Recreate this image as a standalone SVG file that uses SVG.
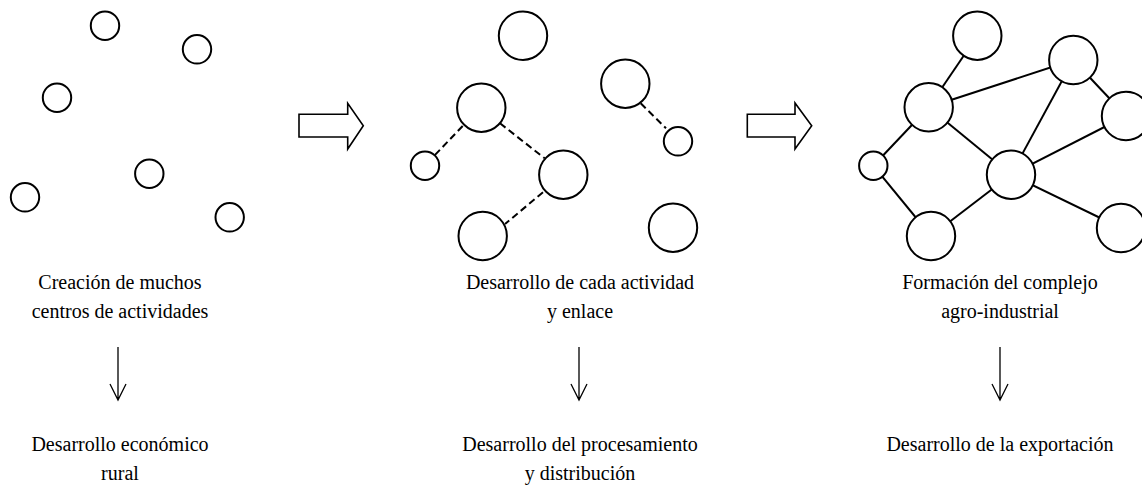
<svg xmlns="http://www.w3.org/2000/svg" width="1142" height="489" viewBox="0 0 1142 489">
<style>
.n{fill:#fff;stroke:#000;stroke-width:2}
.l{stroke:#000;stroke-width:2;fill:none}
.d{stroke:#000;stroke-width:2;fill:none;stroke-dasharray:7 4}
.b{fill:#fff;stroke:#000;stroke-width:1.6;stroke-linejoin:miter}
.a{stroke:#000;stroke-width:1.3;fill:none}
.t{font-size:20px;fill:#000;text-anchor:middle}
</style>
<rect width="1142" height="489" fill="#fff"/>
<g id="connectors">
<line class="d" x1="462.7" y1="126" x2="433.3" y2="156.7"/>
<line class="d" x1="500" y1="123.3" x2="544.7" y2="158.3"/>
<line class="d" x1="543" y1="192.3" x2="505" y2="224"/>
<line class="d" x1="640.7" y1="103.3" x2="666" y2="128.3"/>
<line class="l" x1="977.3" y1="35.7" x2="928.7" y2="107.3"/>
<line class="l" x1="928.7" y1="107.3" x2="1073.3" y2="60"/>
<line class="l" x1="1073.3" y1="60" x2="1126" y2="116"/>
<line class="l" x1="1073.3" y1="60" x2="1011" y2="174.7"/>
<line class="l" x1="1126" y1="116" x2="1011" y2="174.7"/>
<line class="l" x1="928.7" y1="107.3" x2="1011" y2="174.7"/>
<line class="l" x1="928.7" y1="107.3" x2="873.3" y2="165.7"/>
<line class="l" x1="873.3" y1="165.7" x2="931" y2="236"/>
<line class="l" x1="931" y1="236" x2="1011" y2="174.7"/>
<line class="l" x1="1011" y1="174.7" x2="1121" y2="228"/>
<polygon id="arrow1" class="b" points="299,114.3 347.7,114.3 347.7,103.3 363.3,125.7 347.7,149 347.7,137 299,137"/>
<polygon id="arrow2" class="b" points="747.3,114.3 795,114.3 795,103 811.7,125.7 795,149 795,137 747.3,137"/>
<path id="down1" class="a" d="M118,347 V400 M110,384 L118,400 L126,384"/>
<path id="down2" class="a" d="M579,347 V400 M571,384 L579,400 L587,384"/>
<path id="down3" class="a" d="M1000,347 V400 M992,384 L1000,400 L1008,384"/>
</g>
<g id="panel1">
<circle id="p1a" class="n" cx="105" cy="25.7" r="14.2"/>
<circle id="p1b" class="n" cx="197" cy="49.3" r="14.2"/>
<circle id="p1c" class="n" cx="57" cy="97.7" r="14.2"/>
<circle id="p1d" class="n" cx="149.3" cy="173.7" r="14.2"/>
<circle id="p1e" class="n" cx="25" cy="197.3" r="14.2"/>
<circle id="p1f" class="n" cx="229.7" cy="217.3" r="14.2"/>
</g>
<g id="panel2">
<circle id="p2a" class="n" cx="523" cy="35.7" r="24.2"/>
<circle id="p2b" class="n" cx="481.3" cy="107.7" r="24.2"/>
<circle id="p2c" class="n" cx="625.3" cy="83.7" r="24.2"/>
<circle id="p2d" class="n" cx="425" cy="165.7" r="14.2"/>
<circle id="p2e" class="n" cx="678" cy="141.3" r="14.2"/>
<circle id="p2f" class="n" cx="563.3" cy="174.7" r="24.2"/>
<circle id="p2g" class="n" cx="482.7" cy="236" r="24.2"/>
<circle id="p2h" class="n" cx="673" cy="227.7" r="24.2"/>
</g>
<g id="panel3">
<circle id="p3a" class="n" cx="977.3" cy="35.7" r="24.2"/>
<circle id="p3b" class="n" cx="1073.3" cy="60" r="24.2"/>
<circle id="p3c" class="n" cx="928.7" cy="107.3" r="24.2"/>
<circle id="p3d" class="n" cx="1126" cy="116" r="24.2"/>
<circle id="p3e" class="n" cx="873.3" cy="165.7" r="14.2"/>
<circle id="p3f" class="n" cx="1011" cy="174.7" r="24.2"/>
<circle id="p3g" class="n" cx="931" cy="236" r="24.2"/>
<circle id="p3h" class="n" cx="1121" cy="228" r="24.2"/>
</g>
<g id="labels" font-family="'Liberation Serif', 'Times New Roman', Tinos, 'DejaVu Serif', serif">
<text class="t" x="120" y="289">Creación de muchos</text>
<text class="t" x="120" y="318">centros de actividades</text>
<text class="t" x="120" y="451">Desarrollo económico</text>
<text class="t" x="120" y="480">rural</text>
<text class="t" x="580" y="289">Desarrollo de cada actividad</text>
<text class="t" x="580" y="318">y enlace</text>
<text class="t" x="580" y="451">Desarrollo del procesamiento</text>
<text class="t" x="580" y="480">y distribución</text>
<text class="t" x="1000" y="289">Formación del complejo</text>
<text class="t" x="1000" y="318">agro-industrial</text>
<text class="t" x="1000" y="451">Desarrollo de la exportación</text>
</g>
</svg>
